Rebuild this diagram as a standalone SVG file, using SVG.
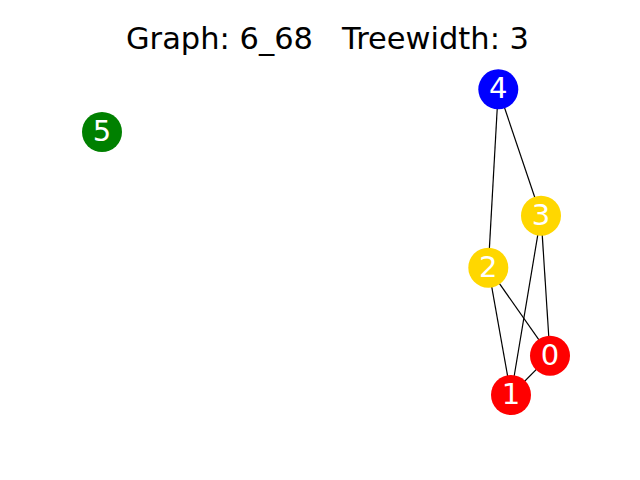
<svg xmlns="http://www.w3.org/2000/svg" width="640" height="480" viewBox="0 0 640 480">
<style>
.t{font-family:"DejaVu Sans",sans-serif;font-size:30.5px;fill:#000;text-anchor:middle;white-space:pre}
.n text{font-family:"DejaVu Sans",sans-serif;font-size:29px;fill:#fff;text-anchor:middle}
.e line{stroke:#000;stroke-width:1.2}
</style>
<rect width="640" height="480" fill="#fff"/>
<text class="t" x="327.5" y="49" xml:space="preserve">Graph: 6_68   Treewidth: 3</text>
<g class="e" id="edges">
<line x1="498.3" y1="89.3" x2="488.3" y2="267.7"/>
<line x1="498.3" y1="89.3" x2="541" y2="215.7"/>
<line x1="541" y1="215.7" x2="511" y2="395"/>
<line x1="541" y1="215.7" x2="550" y2="355.7"/>
<line x1="488.3" y1="267.7" x2="511" y2="395"/>
<line x1="488.3" y1="267.7" x2="550" y2="355.7"/>
<line x1="550" y1="355.7" x2="511" y2="395"/>
</g>
<g class="n" id="node4"><circle cx="498.3" cy="89.3" r="20" fill="#0000ff"/><text x="498.3" y="98.3">4</text></g>
<g class="n" id="node5"><circle cx="102" cy="132" r="20" fill="#008000"/><text x="102" y="141">5</text></g>
<g class="n" id="node3"><circle cx="541" cy="215.7" r="20" fill="#ffd700"/><text x="541" y="224.7">3</text></g>
<g class="n" id="node2"><circle cx="488.3" cy="267.7" r="20" fill="#ffd700"/><text x="488.3" y="276.7">2</text></g>
<g class="n" id="node0"><circle cx="550" cy="355.7" r="20" fill="#ff0000"/><text x="550" y="364.7">0</text></g>
<g class="n" id="node1"><circle cx="511" cy="395" r="20" fill="#ff0000"/><text x="511" y="404">1</text></g>
</svg>
